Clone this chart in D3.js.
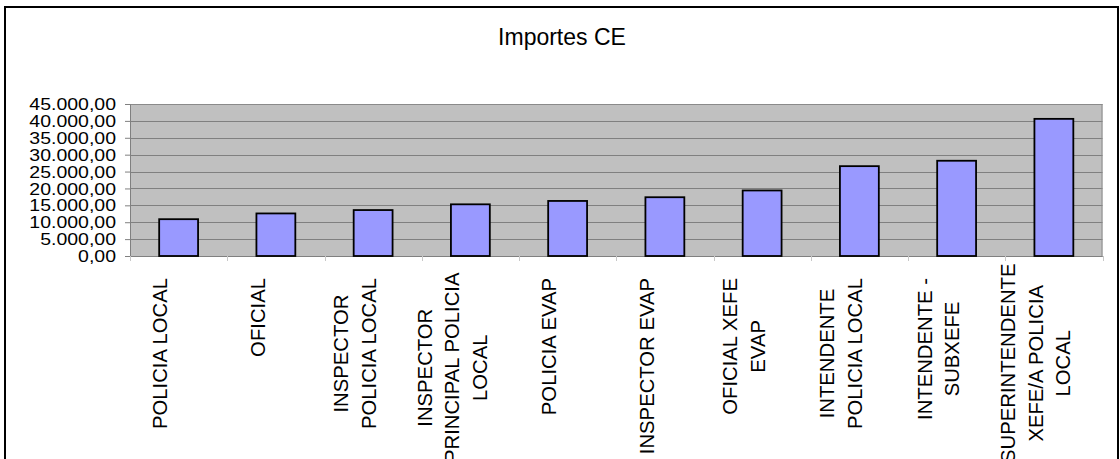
<!DOCTYPE html>
<html>
<head>
<meta charset="utf-8">
<script src="https://cdn.jsdelivr.net/npm/d3@7"></script>
<style>
  html, body { margin: 0; padding: 0; background: #fff; }
  svg { display: block; font-family: "Liberation Sans", Arial, sans-serif; }
</style>
</head>
<body>
<svg id="chart" width="1120" height="459"></svg>
<script>
const title = "Importes CE";
const categories = [
  "POLICIA LOCAL",
  "OFICIAL",
  "INSPECTOR\nPOLICIA LOCAL",
  "INSPECTOR\nPRINCIPAL POLICIA\nLOCAL",
  "POLICIA EVAP",
  "INSPECTOR EVAP",
  "OFICIAL XEFE\nEVAP",
  "INTENDENTE\nPOLICIA LOCAL",
  "INTENDENTE -\nSUBXEFE",
  "SUPERINTENDENTE\nXEFE/A POLICIA\nLOCAL"
];
const values = [10900, 12600, 13600, 15300, 16300, 17400, 19400, 26600, 28200, 40600];
const yTicks = [0, 5000, 10000, 15000, 20000, 25000, 30000, 35000, 40000, 45000];
const yTickLabels = ["0,00", "5.000,00", "10.000,00", "15.000,00", "20.000,00", "25.000,00", "30.000,00", "35.000,00", "40.000,00", "45.000,00"];

const svg = d3.select("#chart");
const plot = { left: 130, right: 1102.5, top: 104, bottom: 256 };

// outer frame
svg.append("rect").attr("x", 5).attr("y", 7).attr("width", 1113).attr("height", 470)
  .attr("fill", "#fff").attr("stroke", "#000").attr("stroke-width", 2);

// title
svg.append("text").attr("x", 562).attr("y", 45).attr("text-anchor", "middle")
  .attr("font-size", 23).attr("fill", "#000").text(title);

const x = d3.scaleBand().domain(d3.range(categories.length))
  .range([plot.left, plot.right]).paddingInner(0).paddingOuter(0);
const y = d3.scaleLinear().domain([0, 45000]).range([plot.bottom, plot.top]);

// plot background
svg.append("rect").attr("x", plot.left).attr("y", plot.top)
  .attr("width", plot.right - plot.left).attr("height", plot.bottom - plot.top)
  .attr("fill", "#c0c0c0");

// gridlines
svg.append("g").selectAll("line").data(yTicks).join("line")
  .attr("x1", plot.left).attr("x2", plot.right)
  .attr("y1", d => Math.round(y(d)) + 0.5).attr("y2", d => Math.round(y(d)) + 0.5)
  .attr("stroke", "#808080").attr("stroke-width", 1);

// plot border
svg.append("rect").attr("x", plot.left + 0.5).attr("y", plot.top + 0.5)
  .attr("width", plot.right - plot.left - 1).attr("height", plot.bottom - plot.top)
  .attr("fill", "none").attr("stroke", "#8a8a8a").attr("stroke-width", 1);

// y axis
const yAxis = d3.axisLeft(y).tickValues(yTicks).tickSize(5).tickFormat((d, i) => yTickLabels[i]);
const yg = svg.append("g").attr("transform", `translate(${plot.left},0)`).call(yAxis);
yg.select(".domain").attr("stroke", "#808080");
yg.selectAll(".tick line").attr("stroke", "#808080");
yg.selectAll(".tick text").remove();
yg.selectAll(".tick").append("text")
  .attr("transform", "translate(-14,0) scale(1,0.8)")
  .attr("text-anchor", "end").attr("dy", "0.36em")
  .attr("font-size", 19.5).attr("fill", "#000")
  .text((d, i) => yTickLabels[i]);

// x axis ticks
const xg = svg.append("g");
xg.append("line").attr("x1", plot.left).attr("x2", plot.right)
  .attr("y1", plot.bottom + 0.5).attr("y2", plot.bottom + 0.5).attr("stroke", "#808080");
xg.selectAll("line.xt").data(d3.range(categories.length + 1)).join("line").attr("class", "xt")
  .attr("x1", d => Math.round(plot.left + d * x.step()) + 0.5)
  .attr("x2", d => Math.round(plot.left + d * x.step()) + 0.5)
  .attr("y1", plot.bottom).attr("y2", plot.bottom + 5)
  .attr("stroke", "#c8c8c8");

// bars
const barW = x.bandwidth() * 0.4;
svg.append("g").selectAll("rect").data(values).join("rect")
  .attr("x", (d, i) => x(i) + (x.bandwidth() - barW) / 2)
  .attr("y", d => y(d))
  .attr("width", barW)
  .attr("height", d => y(0) - y(d))
  .attr("fill", "#9999ff").attr("stroke", "#000").attr("stroke-width", 1.8);

// category labels (rotated, wrapped)
const lineGap = 27.5;
categories.forEach((c, i) => {
  const lines = c.split("\n");
  const cx = x(i) + x.bandwidth() / 2 - 18.5;
  const g = svg.append("g");
  const texts = lines.map((ln, j) => g.append("text")
    .attr("font-size", 20.3).attr("fill", "#000").attr("text-anchor", "middle")
    .attr("dy", "0.36em")
    .attr("y", (j - (lines.length - 1) / 2) * lineGap)
    .text(ln));
  const lmax = d3.max(texts, t => t.node().getComputedTextLength());
  texts.forEach(t => t.attr("x", -lmax / 2));
  let top = 278;
  if (top + lmax > 463) top = 463 - lmax;
  g.attr("transform", `translate(${cx},${top}) rotate(-90)`);
});
</script>
</body>
</html>
